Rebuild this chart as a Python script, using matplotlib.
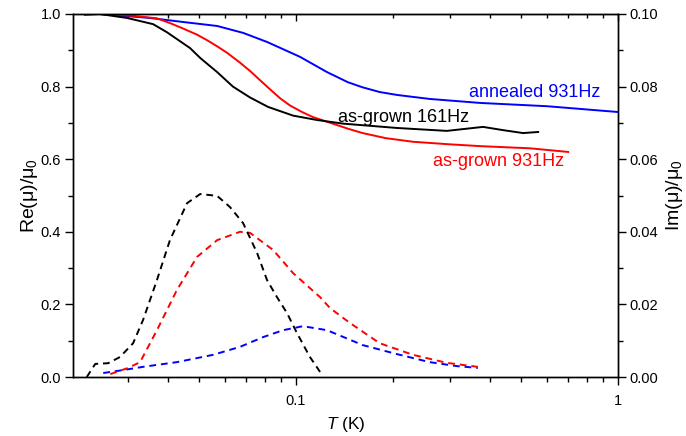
import matplotlib
matplotlib.use("Agg")
import matplotlib.pyplot as plt
from matplotlib.ticker import LogLocator, NullFormatter, MultipleLocator

plt.rcParams["font.family"] = ["Liberation Sans", "DejaVu Sans"]
plt.rcParams["mathtext.fontset"] = "custom"
plt.rcParams["mathtext.rm"] = "Liberation Sans"
plt.rcParams["mathtext.it"] = "Liberation Sans:italic"

# Re(mu)/mu0, solid lines (left axis)
t_re_161 = [0.0221, 0.0246, 0.0299, 0.0360, 0.0397, 0.0469, 0.0504, 0.0569, 0.0637,
            0.0720, 0.0819, 0.0980, 0.1162, 0.140, 0.206, 0.294, 0.381, 0.440, 0.507, 0.565]
re_161 = [0.998, 1.0, 0.989, 0.972, 0.950, 0.906, 0.879, 0.840, 0.800,
          0.770, 0.744, 0.720, 0.708, 0.698, 0.686, 0.678, 0.689, 0.680, 0.672, 0.675]

t_re_931 = [0.0246, 0.0312, 0.0370, 0.0406, 0.0446, 0.0493, 0.0529, 0.0569, 0.0611, 0.0670,
            0.0720, 0.0813, 0.0892, 0.0958, 0.1044, 0.1129, 0.130, 0.145, 0.161, 0.190,
            0.231, 0.300, 0.373, 0.533, 0.700]
re_931 = [1.0, 0.995, 0.988, 0.975, 0.960, 0.943, 0.928, 0.911, 0.893, 0.866,
          0.843, 0.800, 0.768, 0.748, 0.730, 0.716, 0.698, 0.684, 0.672, 0.658,
          0.648, 0.641, 0.636, 0.630, 0.620]

t_re_ann = [0.0246, 0.0352, 0.0446, 0.0569, 0.0685, 0.0813, 0.1029, 0.1248, 0.145,
            0.161, 0.182, 0.206, 0.260, 0.373, 0.601, 1.0]
re_ann = [1.0, 0.989, 0.978, 0.967, 0.948, 0.923, 0.882, 0.840, 0.812,
          0.798, 0.785, 0.777, 0.766, 0.755, 0.746, 0.730]

# Im(mu)/mu0, dashed lines (right axis)
t_im_161 = [0.0224, 0.0238, 0.0261, 0.0284, 0.0312, 0.0335, 0.0370, 0.0406, 0.0459, 0.0504,
            0.0569, 0.0624, 0.0685, 0.0757, 0.0813, 0.0873, 0.0938, 0.1007, 0.1105, 0.1188]
im_161 = [0.0, 0.0036, 0.0038, 0.0055, 0.0093, 0.0157, 0.0267, 0.0377, 0.0479, 0.0504,
          0.0499, 0.0468, 0.0424, 0.0342, 0.0267, 0.0220, 0.0176, 0.0121, 0.0055, 0.0014]

t_im_931 = [0.0265, 0.0301, 0.0328, 0.0370, 0.0427, 0.0493, 0.0569, 0.0670, 0.0720, 0.0849,
            0.0980, 0.1188, 0.1275, 0.147, 0.182, 0.231, 0.294, 0.367]
im_931 = [0.0008, 0.0025, 0.0041, 0.0129, 0.0240, 0.0331, 0.0377, 0.0400, 0.0397, 0.0350,
          0.0286, 0.0220, 0.0190, 0.0149, 0.0093, 0.0061, 0.0039, 0.0028]

t_im_ann = [0.0252, 0.0290, 0.0335, 0.0427, 0.0552, 0.0670, 0.0791, 0.0912, 0.1051,
            0.1248, 0.145, 0.161, 0.206, 0.260, 0.316, 0.367]
im_ann = [0.0011, 0.0019, 0.0028, 0.0041, 0.0061, 0.0083, 0.0110, 0.0129, 0.0140,
          0.0129, 0.0105, 0.0088, 0.0063, 0.0041, 0.0030, 0.0025]

fig = plt.figure(figsize=(6.86, 4.36), dpi=100)
ax = fig.add_axes([0.1064, 0.1353, 0.7945, 0.8326])
ax2 = ax.twinx()

lw = 1.4
dash = (0, (3.5, 2.5))
ax.plot(t_re_ann, re_ann, color="#0000ff", lw=lw)
ax.plot(t_re_931, re_931, color="#ff0000", lw=lw)
ax.plot(t_re_161, re_161, color="black", lw=lw)
ax2.plot(t_im_ann, im_ann, color="#0000ff", lw=lw, linestyle=dash)
ax2.plot(t_im_931, im_931, color="#ff0000", lw=lw, linestyle=dash)
ax2.plot(t_im_161, im_161, color="black", lw=lw, linestyle=dash)

ax.set_xscale("log")
ax.set_xlim(0.0203, 1.0)
ax.set_ylim(0, 1.0)
ax2.set_ylim(0, 0.10)

ax.set_xticks([0.1, 1], labels=["0.1", "1"])
ax.xaxis.set_minor_locator(LogLocator(base=10, subs=range(2, 10)))
ax.xaxis.set_minor_formatter(NullFormatter())
ax.yaxis.set_major_locator(MultipleLocator(0.2))
ax.yaxis.set_minor_locator(MultipleLocator(0.1))
ax.yaxis.set_major_formatter(lambda v, p: f"{v:.1f}")
ax2.yaxis.set_major_locator(MultipleLocator(0.02))
ax2.yaxis.set_minor_locator(MultipleLocator(0.01))
ax2.yaxis.set_major_formatter(lambda v, p: f"{v:.2f}")

ax.tick_params(axis="y", which="major", direction="out", length=6, width=1, labelsize=10.5, pad=2.5)
ax.tick_params(axis="x", which="major", direction="out", length=6, width=1, labelsize=10.5, pad=6)
ax.tick_params(which="minor", direction="out", length=3.5, width=1)
ax2.tick_params(which="major", direction="out", length=6, width=1, labelsize=10.5, pad=2.5)
ax2.tick_params(which="minor", direction="out", length=3.5, width=1)

top = ax.secondary_xaxis("top")
top.set_xticks([0.1, 1])
top.xaxis.set_minor_locator(LogLocator(base=10, subs=range(2, 10)))
top.tick_params(which="major", direction="in", length=5, width=1, labeltop=False)
top.tick_params(which="minor", direction="in", length=3, width=1, labeltop=False)

for a in (ax, ax2):
    for s in a.spines.values():
        s.set_linewidth(1.0)

ax.set_xlabel("$T$ (K)", fontsize=12.5, va="center")
ax.xaxis.set_label_coords(0.5, -0.132)
ax.set_ylabel("Re(μ)/μ$_0$", fontsize=14, va="center")
ax.yaxis.set_label_coords(-0.079, 0.5)
ax2.set_ylabel("Im(μ)/μ$_0$", fontsize=14, rotation=90, va="center")
ax2.yaxis.set_label_coords(1.104, 0.5)

ax.text(0.88, 0.785, "annealed 931Hz", color="#0000ff", fontsize=13, ha="right", va="center")
ax.text(0.135, 0.716, "as-grown 161Hz", color="black", fontsize=13, ha="left", va="center")
ax.text(0.2665, 0.595, "as-grown 931Hz", color="#ff0000", fontsize=13, ha="left", va="center")

fig.savefig("out.png", dpi=100)
